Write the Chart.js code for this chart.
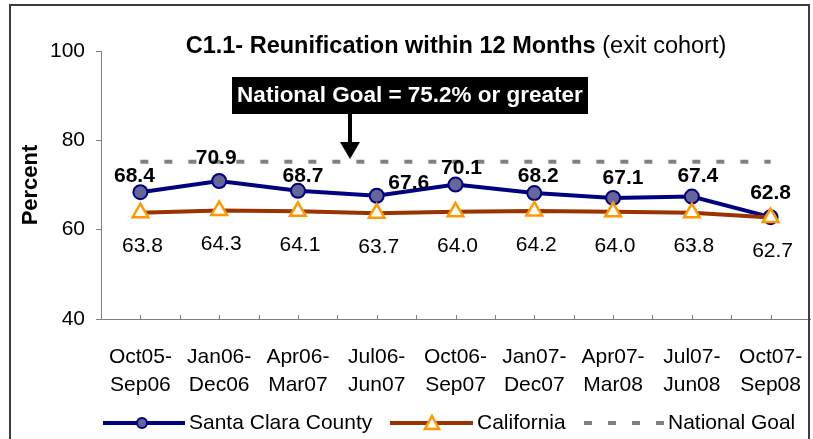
<!DOCTYPE html>
<html>
<head>
<meta charset="utf-8">
<script src="https://cdn.jsdelivr.net/npm/chart.js@4.4.0/dist/chart.umd.min.js"></script>
<style>
	html, body { margin: 0; padding: 0; background: #fff; }
	#wrap { width: 813px; height: 439px; }
</style>
</head>
<body>
<div id="wrap"><canvas id="c1-chart" width="813" height="439"></canvas></div>
<script>
var periods = [
	['Oct05-', 'Sep06'], ['Jan06-', 'Dec06'], ['Apr06-', 'Mar07'],
	['Jul06-', 'Jun07'], ['Oct06-', 'Sep07'], ['Jan07-', 'Dec07'],
	['Apr07-', 'Mar08'], ['Jul07-', 'Jun08'], ['Oct07-', 'Sep08']
];
var santaClara = [68.4, 70.9, 68.7, 67.6, 70.1, 68.2, 67.1, 67.4, 62.8];
var california = [63.8, 64.3, 64.1, 63.7, 64.0, 64.2, 64.0, 63.8, 62.7];
var nationalGoal = [75.2, 75.2, 75.2, 75.2, 75.2, 75.2, 75.2, 75.2, 75.2];
var yTicks = [40, 60, 80, 100];

// hand-placed label nudges (dx, dy) for the county labels, like the original
var countyNudge = [[-6, -16], [-3, -23], [5, -15], [32, -13], [6, -16], [4, -17], [10, -20], [6, -20], [0, -24]];

var NAVY = '#000080', BROWN = '#993300', ORANGE = '#FF9900', GREY = '#808080';
var FONT = '"Liberation Sans", Arial, sans-serif';

var decor = {
	id: 'decor',
	afterDatasetsDraw: function (chart) {
		var ctx = chart.ctx;
		var cty = chart.getDatasetMeta(1).data,
			cal = chart.getDatasetMeta(0).data;
		ctx.save();
		ctx.textAlign = 'center';
		ctx.textBaseline = 'middle';
		ctx.fillStyle = '#000';
		ctx.font = 'bold 21px ' + FONT;
		for (var i = 0; i < cty.length; i++) {
			ctx.fillText(santaClara[i].toFixed(1), cty[i].x + countyNudge[i][0], cty[i].y + countyNudge[i][1]);
		}
		ctx.font = '21px ' + FONT;
		for (var j = 0; j < cal.length; j++) {
			ctx.fillText(california[j].toFixed(1), cal[j].x + 2, cal[j].y + 34);
		}
		ctx.restore();
	},
	afterDraw: function (chart) {
		var ctx = chart.ctx,
			area = chart.chartArea;
		ctx.save();

		// outer frame
		ctx.strokeStyle = '#3c3c3c';
		ctx.lineWidth = 2;
		ctx.strokeRect(10, 5, 799, 460);

		// little tick marks on the category axis
		ctx.strokeStyle = GREY;
		ctx.lineWidth = 1;
		var step = (area.right - area.left) / periods.length / 2;
		ctx.beginPath();
		for (var k = 1; k < periods.length * 2; k++) {
			var tx = Math.round(area.left + k * step) + 0.5;
			ctx.moveTo(tx, area.bottom);
			ctx.lineTo(tx, area.bottom - 4);
		}
		ctx.stroke();

		// title, bold part + plain part
		ctx.fillStyle = '#000';
		ctx.textBaseline = 'middle';
		ctx.textAlign = 'left';
		var t1 = 'C1.1- Reunification within 12 Months', t2 = ' (exit cohort)';
		ctx.font = 'bold 23.5px ' + FONT;
		var w1 = ctx.measureText(t1).width;
		ctx.font = '23.5px ' + FONT;
		var w2 = ctx.measureText(t2).width;
		var tx0 = 456 - (w1 + w2) / 2;
		ctx.font = 'bold 23.5px ' + FONT;
		ctx.fillText(t1, tx0, 47);
		ctx.font = '23.5px ' + FONT;
		ctx.fillText(t2, tx0 + w1, 47);

		// national goal call-out
		ctx.fillStyle = '#000';
		ctx.fillRect(232, 77, 356, 37);
		ctx.fillStyle = '#fff';
		ctx.textAlign = 'center';
		ctx.font = 'bold 22.5px ' + FONT;
		ctx.fillText('National Goal = 75.2% or greater', 410, 96);
		ctx.fillStyle = '#000';
		ctx.fillRect(348, 114, 4, 30);
		ctx.beginPath();
		ctx.moveTo(340, 142);
		ctx.lineTo(360, 142);
		ctx.lineTo(350, 159);
		ctx.closePath();
		ctx.fill();

		// y axis title
		ctx.save();
		ctx.translate(31, 185);
		ctx.rotate(-Math.PI / 2);
		ctx.font = 'bold 22px ' + FONT;
		ctx.fillText('Percent', 0, 0);
		ctx.restore();

		// legend
		var ly = 423;
		ctx.lineWidth = 4;
		ctx.strokeStyle = NAVY;
		ctx.beginPath(); ctx.moveTo(103, ly); ctx.lineTo(185, ly); ctx.stroke();
		ctx.beginPath(); ctx.arc(142, ly, 5, 0, Math.PI * 2);
		ctx.fillStyle = '#666699'; ctx.fill();
		ctx.lineWidth = 2; ctx.stroke();

		ctx.lineWidth = 4;
		ctx.strokeStyle = BROWN;
		ctx.beginPath(); ctx.moveTo(390, ly); ctx.lineTo(473, ly); ctx.stroke();
		ctx.beginPath();
		ctx.moveTo(432, ly - 7); ctx.lineTo(439, ly + 6); ctx.lineTo(425, ly + 6); ctx.closePath();
		ctx.fillStyle = '#fff'; ctx.fill();
		ctx.strokeStyle = ORANGE; ctx.lineWidth = 2.5; ctx.stroke();

		ctx.strokeStyle = GREY;
		ctx.lineWidth = 4;
		ctx.setLineDash([8, 16]);
		ctx.beginPath(); ctx.moveTo(584, ly); ctx.lineTo(664, ly); ctx.stroke();
		ctx.setLineDash([]);

		ctx.fillStyle = '#000';
		ctx.textAlign = 'left';
		ctx.font = '21px ' + FONT;
		ctx.fillText('Santa Clara County', 189, ly);
		ctx.fillText('California', 477, ly);
		ctx.fillText('National Goal', 668, ly);

		ctx.restore();
	}
};

var ctxL = document.getElementById('c1-chart').getContext('2d');
var myLineChart = new Chart(ctxL, {
	type: 'line',
	data: {
		labels: periods,
		datasets: [
			{
				label: 'California',
				data: california,
				borderColor: BROWN,
				borderWidth: 4,
				pointStyle: 'triangle',
				pointRadius: 9,
				pointBorderWidth: 2.5,
				pointBackgroundColor: '#fff',
				pointBorderColor: ORANGE
			},
			{
				label: 'Santa Clara County',
				data: santaClara,
				borderColor: NAVY,
				borderWidth: 4,
				pointStyle: 'circle',
				pointRadius: 7,
				pointBorderWidth: 2,
				pointBackgroundColor: '#666699',
				pointBorderColor: NAVY
			},
			{
				label: 'National Goal',
				data: nationalGoal,
				borderColor: GREY,
				borderWidth: 4,
				borderDash: [8, 16],
				borderCapStyle: 'butt',
				pointRadius: 0
			}
		]
	},
	options: {
		responsive: false,
		animation: false,
		events: [],
		layout: { autoPadding: false, padding: { top: 51, right: 3, bottom: 40, left: 0 } },
		plugins: {
			legend: { display: false },
			title: { display: false },
			tooltip: { enabled: false }
		},
		scales: {
			x: {
				offset: true,
				// invisible tick marks just push the labels down
				grid: { drawOnChartArea: false, drawTicks: true, tickLength: 24, color: 'rgba(0,0,0,0)' },
				border: { color: GREY, width: 1 },
				ticks: {
					color: '#000',
					font: { family: FONT, size: 21, lineHeight: 1.35 },
					padding: 0,
					maxRotation: 0,
					autoSkip: false
				},
				afterFit: function (scale) {
					scale.height = 80;
					scale.paddingLeft = 0;
					scale.paddingRight = 0;
				}
			},
			y: {
				min: 40,
				max: 100,
				afterBuildTicks: function (scale) {
					scale.ticks = yTicks.map(function (v) { return { value: v }; });
				},
				grid: { drawOnChartArea: false, tickLength: 5, color: GREY },
				border: { color: GREY, width: 1 },
				ticks: {
					color: '#000',
					font: { family: FONT, size: 21 },
					padding: 11
				},
				afterFit: function (scale) { scale.width = 101; }
			}
		}
	},
	plugins: [decor]
});
</script>
</body>
</html>
